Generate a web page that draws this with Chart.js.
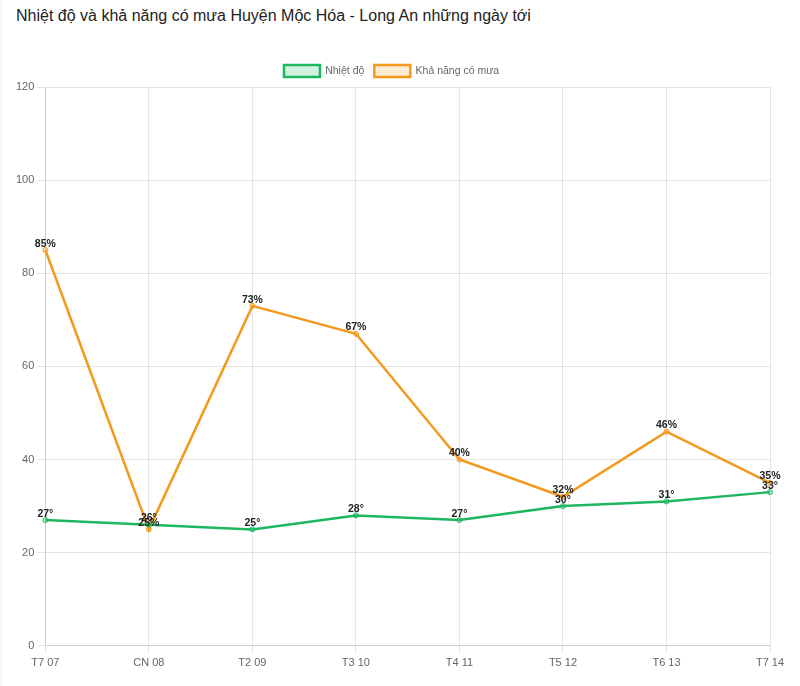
<!DOCTYPE html>
<html>
<head>
<meta charset="utf-8">
<script src="https://cdn.jsdelivr.net/npm/chart.js@4.4.0/dist/chart.umd.min.js"></script>
<style>
  html, body { margin: 0; padding: 0; background: #f9f9f9; }
  #card { position: absolute; left: 3px; top: 0; width: 797px; height: 686px; background: #fff; }
  h3 {
    position: absolute; left: 13px; top: 7px; margin: 0;
    font: 16px "Liberation Sans", Arial, sans-serif; color: #222; font-weight: normal;
  }
  #wrap { position: absolute; left: 0; top: 0; width: 797px; height: 686px; }
</style>
</head>
<body>
<div id="card">
  <h3>Nhiệt độ và khả năng có mưa Huyện Mộc Hóa - Long An những ngày tới</h3>
  <div id="wrap"><canvas id="weatherChart"></canvas></div>
</div>
<script>
// ── data ────────────────────────────────────────────────────────────────
const dayLabels = ["T7 07", "CN 08", "T2 09", "T3 10", "T4 11", "T5 12", "T6 13", "T7 14"];
const temperature = [27, 26, 25, 28, 27, 30, 31, 33];
const rainChance = [85, 25, 73, 67, 40, 32, 46, 35];

// draws the value above each point (° for temp, % for rain)
const pointLabels = {
  id: "pointLabels",
  afterDatasetsDraw(chart) {
    const ctx = chart.ctx;
    ctx.save();
    ctx.font = "bold 10.5px 'Liberation Sans', Arial, sans-serif";
    ctx.fillStyle = "#222";
    ctx.textAlign = "center";
    ctx.textBaseline = "bottom";
    chart.data.datasets.forEach((ds, i) => {
      const meta = chart.getDatasetMeta(i);
      meta.data.forEach((pt, j) => {
        ctx.fillText(ds.data[j] + ds.suffix, pt.x, pt.y - 1);
      });
    });
    ctx.restore();
  },
};

Chart.defaults.font.family = "'Liberation Sans', Arial, sans-serif";
Chart.defaults.color = "#666";

new Chart(document.getElementById("weatherChart"), {
  type: "line",
  data: {
    labels: dayLabels,
    datasets: [
      {
        label: "Nhiệt độ",
        suffix: "°",
        data: temperature,
        borderColor: "#1db760",
        backgroundColor: "rgba(29,183,96,0.2)",
        pointBackgroundColor: "rgba(29,183,96,0.2)",
        borderWidth: 2.5,
        pointRadius: 2.5,
        pointBorderWidth: 1,
        tension: 0,
        fill: false,
      },
      {
        label: "Khả năng có mưa",
        suffix: "%",
        data: rainChance,
        borderColor: "#f39a1e",
        backgroundColor: "rgba(243,154,30,0.2)",
        pointBackgroundColor: "rgba(243,154,30,0.2)",
        borderWidth: 2.5,
        pointRadius: 2.5,
        pointBorderWidth: 1,
        tension: 0,
        fill: false,
      },
    ],
  },
  options: {
    responsive: true,
    maintainAspectRatio: false,
    animation: false,
    layout: { padding: { top: 55, left: 10, right: 30, bottom: 13 } },
    plugins: {
      legend: {
        labels: { font: { size: 10.5 }, boxWidth: 36, boxHeight: 12 },
      },
      tooltip: { enabled: false },
    },
    scales: {
      y: {
        min: 0,
        max: 120,
        ticks: { stepSize: 20, font: { size: 11 } },
        grid: { color: "rgba(0,0,0,0.1)" },
      },
      x: {
        ticks: { font: { size: 11 } },
        grid: { color: "rgba(0,0,0,0.1)" },
      },
    },
  },
  plugins: [pointLabels],
});
</script>
</body>
</html>
